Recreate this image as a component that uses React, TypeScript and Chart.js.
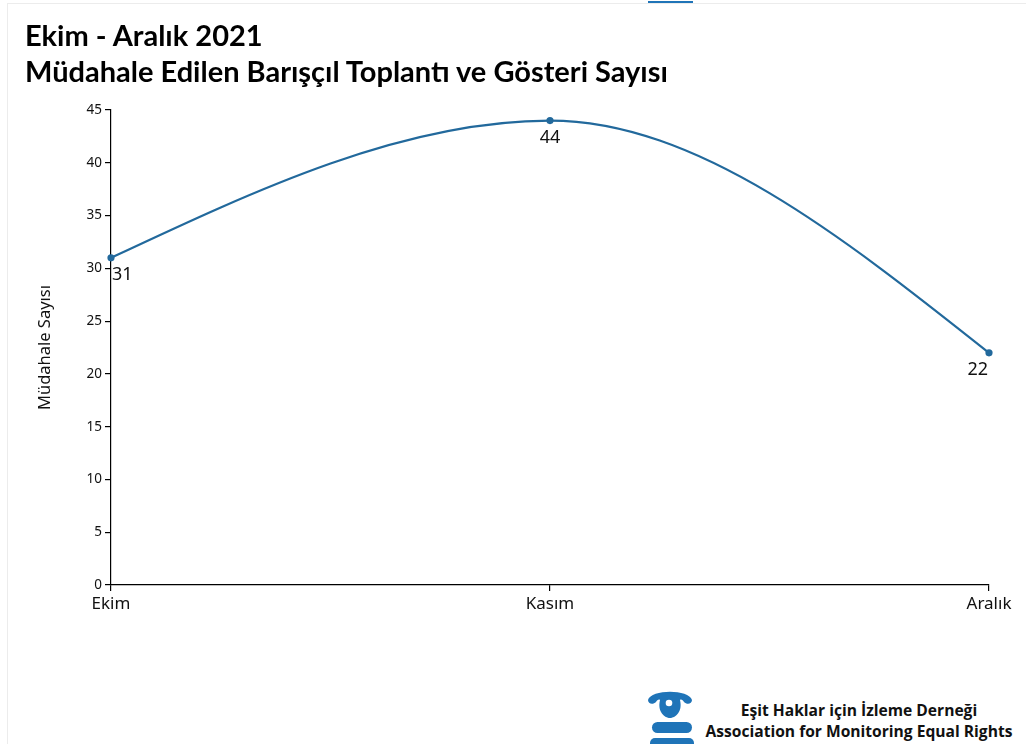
import React, { useEffect, useRef } from "react";
import { Chart, registerables } from "chart.js";

Chart.register(...registerables);

const months = ["Ekim", "Kasım", "Aralık"];
const interventions = [31, 44, 22];
const yTicks = [0, 5, 10, 15, 20, 25, 30, 35, 40, 45];
const titleLine1 = "Ekim - Aralık 2021";
const titleLine2 = "Müdahale Edilen Barışçıl Toplantı ve Gösteri Sayısı";
const yAxisTitle = "Müdahale Sayısı";
const orgLine1 = "Eşit Haklar için İzleme Derneği";
const orgLine2 = "Association for Monitoring Equal Rights";

const LINE_COLOR = "#22699c";
const FONT = "'Noto Sans', 'DejaVu Sans', sans-serif";

// Monotone-X style end tangents (1.5x the end secant), like the original curve
const monotoneEnds = {
  id: "monotoneEnds",
  beforeDatasetDraw(chart: any, args: any) {
    const meta = args.meta;
    const line = meta.dataset;
    if (!line || !line.updateControlPoints) return;
    line.updateControlPoints(chart.chartArea, "x");
    const pts = line.points;
    const n = pts.length;
    if (n < 3) return;
    const a = pts[0], b = pts[1];
    a.cp2y = a.y + 0.5 * (b.y - a.y);
    const z = pts[n - 1], y = pts[n - 2];
    z.cp1y = z.y - 0.5 * (z.y - y.y);
    line._path = undefined;
  },
};

const pointLabels = {
  id: "pointLabels",
  afterDatasetsDraw(chart: any) {
    const ctx = chart.ctx;
    const meta = chart.getDatasetMeta(0);
    const data = chart.data.datasets[0].data as number[];
    ctx.save();
    ctx.font = `18px ${FONT}`;
    ctx.fillStyle = "#111";
    ctx.textBaseline = "middle";
    meta.data.forEach((pt: any, i: number) => {
      const n = meta.data.length;
      ctx.textAlign = i === 0 ? "left" : i === n - 1 ? "right" : "center";
      const x = i === 0 ? pt.x + 1 : i === n - 1 ? pt.x - 1 : pt.x;
      ctx.fillText(String(data[i]), x, pt.y + 17);
    });
    ctx.restore();
  },
};

function LineChart() {
  const ref = useRef<HTMLCanvasElement | null>(null);
  useEffect(() => {
    if (!ref.current) return;
    const chart = new Chart(ref.current, {
      type: "line",
      data: {
        labels: months,
        datasets: [
          {
            data: interventions,
            borderColor: LINE_COLOR,
            backgroundColor: LINE_COLOR,
            borderWidth: 2.2,
            pointRadius: 3.6,
            pointHoverRadius: 3.6,
            pointBackgroundColor: LINE_COLOR,
            pointBorderWidth: 0,
            cubicInterpolationMode: "monotone",
            fill: false,
            clip: false,
          },
        ],
      },
      options: {
        responsive: false,
        animation: false,
        events: [],
        layout: { padding: { left: 0, right: 37, top: 110, bottom: 0 } },
        plugins: {
          legend: { display: false },
          tooltip: { enabled: false },
        },
        scales: {
          x: {
            type: "category",
            offset: false,
            border: { display: true, color: "#000", width: 1.2 },
            grid: {
              display: true,
              drawOnChartArea: false,
              drawTicks: true,
              tickLength: 6,
              color: "#000",
              lineWidth: 1.2,
            },
            ticks: {
              color: "#111",
              font: { family: FONT, size: 17 },
              padding: 3,
              maxRotation: 0,
              autoSkip: false,
            },
            afterFit: (s: any) => {
              s.height = 55;
            },
          },
          y: {
            min: 0,
            max: 45,
            border: { display: true, color: "#000", width: 1.2 },
            grid: {
              display: true,
              drawOnChartArea: false,
              drawTicks: true,
              tickLength: 6,
              color: "#000",
              lineWidth: 1.2,
            },
            afterBuildTicks: (s: any) => {
              s.ticks = yTicks.map((v) => ({ value: v }));
            },
            ticks: {
              color: "#111",
              font: { family: FONT, size: 13.5 },
              padding: 3,
            },
            title: {
              display: true,
              text: yAxisTitle,
              color: "#111",
              font: { family: FONT, size: 16.5 },
              padding: { top: 35, bottom: 0 },
            },
            afterFit: (s: any) => {
              s.width = 111;
            },
          },
        },
      },
      plugins: [monotoneEnds, pointLabels],
    } as any);
    return () => chart.destroy();
  }, []);
  return (
    <canvas
      ref={ref}
      width={1026}
      height={640}
      style={{ position: "absolute", left: 0, top: 0, width: 1026, height: 640 }}
    />
  );
}

function Logo() {
  const c = "#1f74b8";
  return (
    <svg
      width={50}
      height={60}
      viewBox="0 0 50 60"
      style={{ position: "absolute", left: 645, top: 686 }}
    >
      <path
        d="M3 14 C6 3, 44 3, 47 14 C47 18, 42 19, 39 16 C38 14, 36 13, 35 14 C38 26, 30 32, 25 32 C20 32, 12 26, 15 14 C14 13, 12 14, 11 16 C8 19, 3 18, 3 14 Z"
        fill={c}
      />
      <circle cx={24} cy={17} r={3.3} fill="#fff" />
      <rect x={7} y={36} width={40} height={11} rx={5.5} fill={c} />
      <rect x={5} y={52} width={44} height={12} rx={5} fill={c} />
    </svg>
  );
}

export default function App() {
  return (
    <div
      style={{
        position: "absolute",
        left: 0,
        top: 0,
        width: 1026,
        height: 744,
        overflow: "hidden",
        background: "#fff",
        fontFamily: FONT,
      }}
    >
      <div
        style={{
          position: "absolute",
          left: 7,
          top: 3,
          width: 1030,
          height: 760,
          borderTop: "1.5px solid #ececec",
          borderLeft: "1.5px solid #ececec",
        }}
      />
      <div
        style={{
          position: "absolute",
          left: 648,
          top: 1,
          width: 45,
          height: 2,
          background: "#1f74b8",
        }}
      />
      <LineChart />
      <div
        style={{
          position: "absolute",
          left: 25,
          top: 17,
          fontFamily: "Lato, sans-serif",
          fontWeight: 700,
          fontSize: 29,
          lineHeight: "36px",
          color: "#000",
          letterSpacing: 0,
          whiteSpace: "nowrap",
        }}
      >
        <div>{titleLine1}</div>
        <div>{titleLine2}</div>
      </div>
      <div
        style={{
          position: "absolute",
          left: 690,
          top: 700,
          width: 338,
          textAlign: "center",
          fontFamily: "'Open Sans', sans-serif",
          fontWeight: 700,
          fontSize: 15.6,
          lineHeight: "21px",
          color: "#111",
          whiteSpace: "nowrap",
        }}
      >
        <div>{orgLine1}</div>
        <div>{orgLine2}</div>
      </div>
      <Logo />
    </div>
  );
}
